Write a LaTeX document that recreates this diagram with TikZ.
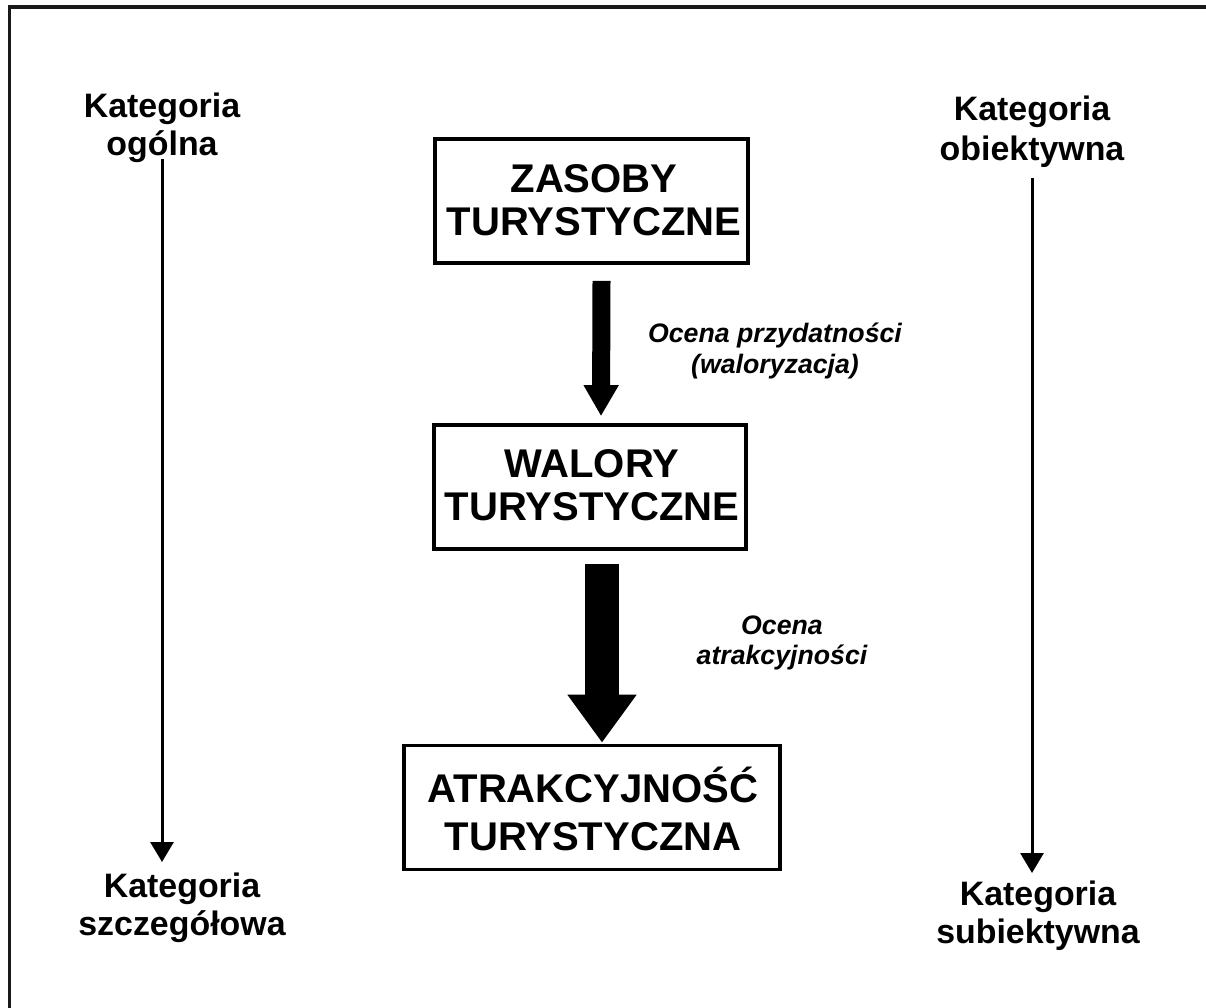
\documentclass[tikz,border=0pt]{standalone}
\usepackage{fontspec}
\setmainfont{Liberation Sans}
\usetikzlibrary{arrows.meta,calc}
\begin{document}
\begin{tikzpicture}[x=0.02cm,y=-0.02cm,
  box/.style={draw=black,line width=0.075cm,minimum width=#1,minimum height=2.48cm,inner sep=0pt},
  boxtext/.style={font=\fontsize{22.8}{24.2}\selectfont\bfseries,align=center,inner sep=0pt},
  cat/.style={font=\fontsize{19.3}{21.6}\selectfont\bfseries,align=center,inner sep=0pt,anchor=north},
  note/.style={font=\fontsize{15.2}{17.2}\selectfont\bfseries\itshape,align=center,inner sep=0pt,anchor=north},
  thinarrow/.style={line width=0.06cm,-{Triangle[width=0.46cm,length=0.4cm]}},
  fatone/.style={line width=0.36cm,-{Triangle[width=0.66cm,length=0.62cm]}},
  fattwo/.style={line width=0.68cm,-{Triangle[width=1.32cm,length=0.96cm]}}
]
\useasboundingbox (0,0) rectangle (1206,1007);
% outer frame (partly visible)
\draw[line width=0.08cm,color=black!90] (9.5,1010) -- (9.5,7.5) -- (1210,7.5);

% boxes
\node[box=6.26cm] (zasoby) at (591.5,201) {};
\node[box=6.24cm] (walory) at (590,487) {};
\node[box=7.52cm] (atrak) at (592,807.5) {};

\node[boxtext] (zasobyT) at (594,200) {ZASOBY\\TURYSTYCZNE};
\node[boxtext] (waloryT) at (592,485) {WALORY\\TURYSTYCZNE};
\node[boxtext,font=\fontsize{22.8}{27}\selectfont\bfseries] (atrakT) at (593,809) {ATRAKCYJNOŚĆ\\TURYSTYCZNA};

% big arrows
\draw[fatone] ($(zasoby.south)+(10,16)$) -- ($(walory.north)+(11,-7)$);
\draw[fattwo] ($(walory.south)+(12,13)$) -- ($(atrak.north)+(10,-1)$);

% labels of big arrows
\node[note] (n1) at (775,323) {Ocena przydatności\\(waloryzacja)};
\node[note] (n2) at (782,615) {Ocena\\atrakcyjności};

% side categories
\node[cat] (katOg) at (162,93) {Kategoria\\ogólna};
\node[cat] (katSz) at (182,873) {Kategoria\\szczegółowa};
\node[cat,font=\fontsize{19.3}{22.6}\selectfont\bfseries] (katOb) at (1032,96) {Kategoria\\obiektywna};
\node[cat] (katSu) at (1038,881) {Kategoria\\subiektywna};

\draw[thinarrow,shorten <=-0.08cm,shorten >=0.22cm] (katOg.south) -- (katOg.south |- katSz.north);
\draw[thinarrow,shorten <=0.2cm,shorten >=0.16cm] (katOb.south) -- (katOb.south |- katSu.north);
\end{tikzpicture}
\end{document}
